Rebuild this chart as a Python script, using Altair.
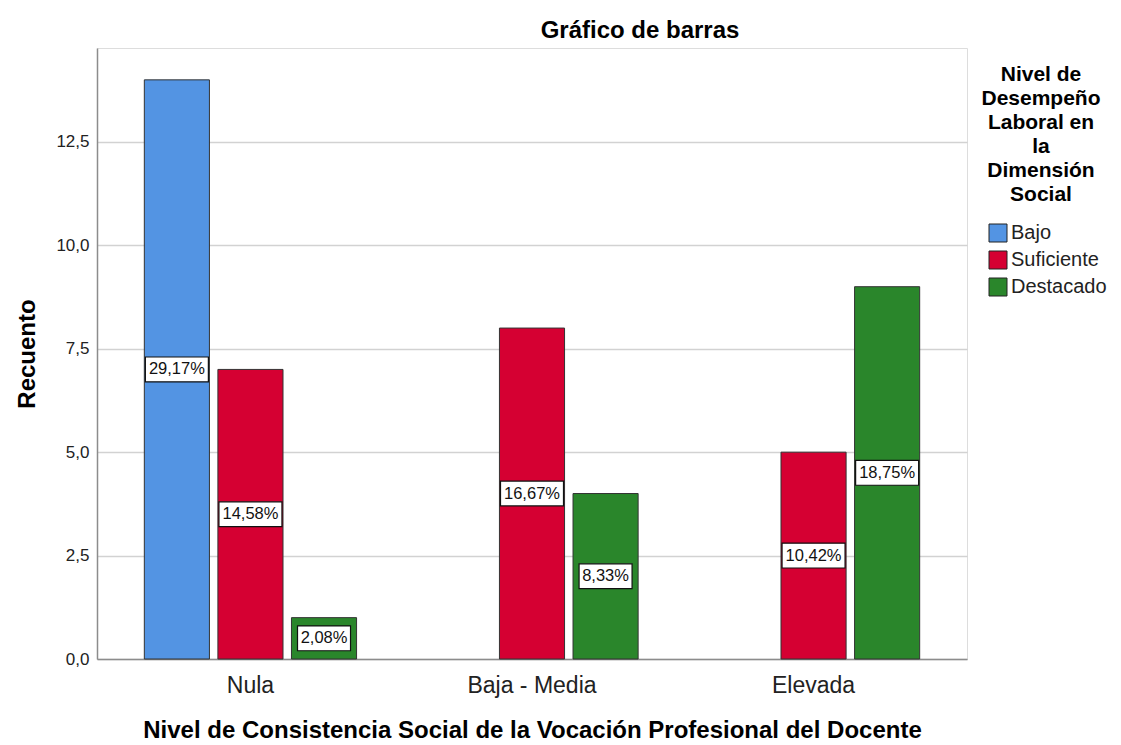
import altair as alt
import pandas as pd

groups = ["Nula", "Nula", "Nula", "Baja - Media", "Baja - Media", "Elevada", "Elevada"]
series = ["Bajo", "Suficiente", "Destacado", "Suficiente", "Destacado", "Suficiente", "Destacado"]
counts = [14, 7, 1, 8, 4, 5, 9]
pct_labels = ["29,17%", "14,58%", "2,08%", "16,67%", "8,33%", "10,42%", "18,75%"]

group_order = ["Nula", "Baja - Media", "Elevada"]
series_order = ["Bajo", "Suficiente", "Destacado"]
series_colors = ["#5394e3", "#d50032", "#2a862b"]
y_ticks = [0, 2.5, 5, 7.5, 10, 12.5]

df = pd.DataFrame({"grupo": groups, "serie": series, "recuento": counts, "pct": pct_labels})

FONT = "Liberation Sans"

x_enc = alt.X("grupo:N", sort=group_order,
              scale=alt.Scale(paddingInner=0.22, paddingOuter=0.155),
              axis=alt.Axis(title="Nivel de Consistencia Social de la Vocación Profesional del Docente",
                            labelAngle=0, ticks=False, labelFontSize=23, labelPadding=15,
                            labelColor="#222222", titleFontSize=24, titleFontWeight="bold",
                            titlePadding=21, titleColor="#000000", domainColor="#8c8c8c",
                            domainWidth=1.5, labelFont=FONT, titleFont=FONT))
xo_enc = alt.XOffset("serie:N", scale=alt.Scale(domain=series_order, paddingInner=0.115, paddingOuter=0.05))

base = alt.Chart(df)

bars = base.mark_bar(stroke="#333333", strokeWidth=1).encode(
    x=x_enc,
    xOffset=xo_enc,
    y=alt.Y("recuento:Q", scale=alt.Scale(domain=[0, 14.77], nice=False),
            axis=alt.Axis(title="Recuento", values=y_ticks, ticks=False, grid=True,
                          gridColor="#d2d2d2", gridWidth=1.5,
                          labelExpr="replace(format(datum.value, '.1f'), '.', ',')",
                          labelFontSize=17, labelPadding=8, labelColor="#222222",
                          titleFontSize=24, titleFontWeight="bold", titlePadding=16,
                          titleColor="#000000", domainColor="#8c8c8c", domainWidth=1.5,
                          labelFont=FONT, titleFont=FONT)),
    color=alt.Color("serie:N", scale=alt.Scale(domain=series_order, range=series_colors),
                    legend=alt.Legend(
                        title=["Nivel de", "Desempeño", "Laboral en", "la", "Dimensión", "Social"],
                        orient="none", legendX=878, legendY=16,
                        titleAlign="center", titleAnchor="middle", titleFontSize=21,
                        titleFontWeight="bold", titleLineHeight=24, titleFont=FONT,
                        titleColor="#000000", titlePadding=18, titleLimit=300,
                        symbolType="square", symbolSize=324, symbolStrokeColor="#222222",
                        symbolStrokeWidth=1, symbolOffset=13, labelFontSize=20,
                        labelFont=FONT, labelColor="#222222", labelOffset=3,
                        rowPadding=5, labelLimit=300)),
)

boxes = base.transform_calculate(
    lo="datum.recuento / 2 - 0.3",
    hi="datum.recuento / 2 + 0.3",
    bw="length(datum.pct) * 10 + 3",
).mark_bar(color="white", stroke="#111111", strokeWidth=1.2).encode(
    x=alt.X("grupo:N", sort=group_order),
    xOffset=alt.XOffset("serie:N"),
    y="lo:Q",
    y2="hi:Q",
    size=alt.Size("bw:Q", scale=None, legend=None),
)

texts = base.transform_calculate(
    mid="datum.recuento / 2",
).mark_text(fontSize=16.5, font=FONT, color="#111111", baseline="middle").encode(
    x=alt.X("grupo:N", sort=group_order),
    xOffset=alt.XOffset("serie:N"),
    y="mid:Q",
    text="pct:N",
)

chart = alt.layer(bars, boxes, texts).properties(
    width=870, height=611,
    title=alt.TitleParams("Gráfico de barras", fontSize=24, fontWeight="bold", font=FONT,
                          anchor="middle", dx=108, offset=5, color="#000000"),
    autosize=alt.AutoSizeParams(type="none"),
    padding={"left": 89, "top": 40, "right": 146, "bottom": 90},
).configure_view(stroke=None).configure(background="white")

chart.save("out.html", embed_options={"renderer": "svg", "actions": False})
